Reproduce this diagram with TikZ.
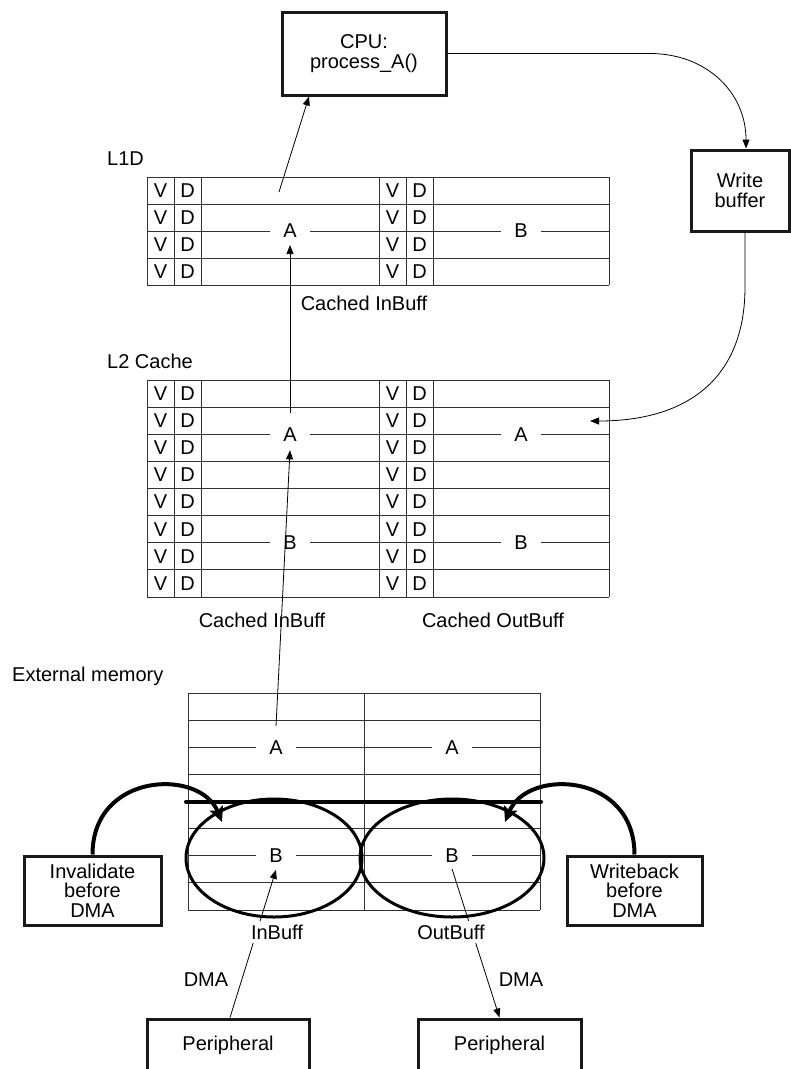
\documentclass[tikz,border=0pt]{standalone}
\usepackage{fontspec}
\setmainfont{Liberation Sans}
\usetikzlibrary{arrows.meta}
\begin{document}
\begin{tikzpicture}[x=1pt,y=-1pt,
  every node/.append style={font=\fontsize{20}{19.5}\selectfont},
  gridline/.style={draw=black!80,line width=0.9pt},
  boxnode/.style={draw=black!90,line width=3pt,align=center,inner sep=0pt},
  cell/.style={inner sep=0pt},
  tag/.style={fill=white,inner xsep=13pt,inner ysep=1pt},
  plain/.style={inner sep=0pt},
  cut/.style={fill=white,inner xsep=1pt,inner ysep=4pt},
  conn/.style={line width=0.8pt,-{Triangle[length=9pt,width=7pt]}},
  bold/.style={line width=4pt,line cap=round},
  ring/.style={line width=3pt},
  boldarrow/.style={line width=4pt,-{Stealth[length=15pt,width=14pt,inset=3pt]}}
]
\useasboundingbox (0,0) rectangle (791,1069);
\clip (0,0) rectangle (791,1069);

% ---------- L1D table ----------
\foreach \i in {0,...,4} \draw[gridline] (147,{177+27*\i}) -- (609,{177+27*\i});
\foreach \x in {147,174,201,379,406,433,609} \draw[gridline] (\x,177) -- (\x,285);
\foreach \i in {0,...,3} {
  \node[cell] (l1va\i) at (160.5,{190.5+27*\i}) {V};
  \node[cell] (l1da\i) at (187.5,{190.5+27*\i}) {D};
  \node[cell] (l1vb\i) at (392.5,{190.5+27*\i}) {V};
  \node[cell] (l1db\i) at (419.5,{190.5+27*\i}) {D};
}
\node[tag] (l1A) at (290,231) {A};
\node[tag] (l1B) at (521,231) {B};

% ---------- L2 table ----------
\foreach \i in {0,...,8} \draw[gridline] (147,{380+27.125*\i}) -- (609,{380+27.125*\i});
\foreach \x in {147,174,201,379,406,433,609} \draw[gridline] (\x,380) -- (\x,597);
\foreach \i in {0,...,7} {
  \node[cell] (l2va\i) at (160.5,{393.5+27.125*\i}) {V};
  \node[cell] (l2da\i) at (187.5,{393.5+27.125*\i}) {D};
  \node[cell] (l2vb\i) at (392.5,{393.5+27.125*\i}) {V};
  \node[cell] (l2db\i) at (419.5,{393.5+27.125*\i}) {D};
}
\node[tag] (l2A) at (290,434.25) {A};
\node[tag] (l2B) at (290,542.75) {B};
\node[tag] (l2A2) at (521,434.25) {A};
\node[tag] (l2B2) at (521,542.75) {B};

% ---------- External memory table ----------
\foreach \i in {0,...,8} \draw[gridline] (188,{693+27.125*\i}) -- (540,{693+27.125*\i});
\foreach \x in {188,364,540} \draw[gridline] (\x,693) -- (\x,910);
\node[tag] (exA1) at (276,747.25) {A};
\node[tag] (exA2) at (452,747.25) {A};
\node[tag] (exBl) at (276,855.75) {B};
\node[tag] (exBr) at (452,855.75) {B};

% ---------- text labels ----------
\node[plain,anchor=west] (l1dlbl) at (107,159) {L1D};
\node[plain,anchor=west] (l2lbl) at (107,361) {L2 Cache};
\node[plain,anchor=west] (extlbl) at (12,676) {External memory};
\node[plain] (cib1) at (364,303) {Cached InBuff};
\node[plain] (cib2) at (262,620) {Cached InBuff};
\node[plain] (cob2) at (493,620) {Cached OutBuff};
\node[plain] (dma1) at (206,980) {DMA};
\node[plain] (dma2) at (521,980) {DMA};

% ---------- buffers in external memory ----------
\draw[bold] (186,801.5) -- (541,801.5);
\draw[ring] (274,858) ellipse [x radius=88pt, y radius=59pt];
\draw[ring] (452,858) ellipse [x radius=92pt, y radius=59pt];

% ---------- boxes ----------
\node[boxnode,minimum width=164pt,minimum height=83pt] (cpu) at (364,53.5) {CPU:\\process\_A()};
\node[boxnode,minimum width=98pt,minimum height=81pt] (wb) at (740,190.5) {Write\\buffer};
\node[boxnode,minimum width=137pt,minimum height=69pt] (inv) at (92.5,890.5) {Invalidate\\before\\DMA};
\node[boxnode,minimum width=135pt,minimum height=69pt] (wbk) at (634.5,890.5) {Writeback\\before\\DMA};
\node[boxnode,minimum width=162pt,minimum height=52pt] (per1) at (228,1045) {Peripheral};
\node[boxnode,minimum width=163pt,minimum height=52pt] (per2) at (499.5,1045) {Peripheral};

% ---------- thick curved arrows ----------
\coordinate (invtip) at (222,822);
\coordinate (wbktip) at (505,822);
\draw[boldarrow] (inv.north) .. controls (92.5,772) and (200,768) .. (invtip);
\draw[boldarrow] (wbk.north) .. controls (634.5,772) and (527,768) .. (wbktip);

% ---------- thin connectors ----------
\coordinate (l1src) at (279,192);
\draw[conn] (l1src) -- ([xshift=-55pt]cpu.south);

\coordinate (cputurn) at (650,53.5);
\draw[conn] (cpu.east) -- (cputurn) .. controls (706,53.5) and (746,92) .. ([xshift=6pt]wb.north);

\coordinate (wbturn) at (745,287);
\coordinate (l2in) at (590,421);
\draw[conn] ([xshift=5pt]wb.south) -- (wbturn) .. controls (745,378) and (688,421) .. (l2in);

\draw[conn] ([yshift=13pt]l2A.north) -- ([yshift=-6pt]l1A.south);
\draw[conn] ([yshift=13pt]exA1.north) -- ([yshift=-8pt]l2A.south);

\draw[conn] ([xshift=2pt]per1.north) -- ([yshift=-6pt]exBl.south);
\draw[conn] ([yshift=-5pt]exBr.south) -- (per2.north);
\node[cut] (inbuf) at (277,932) {InBuff};
\node[cut] (outbuf) at (451,932) {OutBuff};
\end{tikzpicture}
\end{document}
